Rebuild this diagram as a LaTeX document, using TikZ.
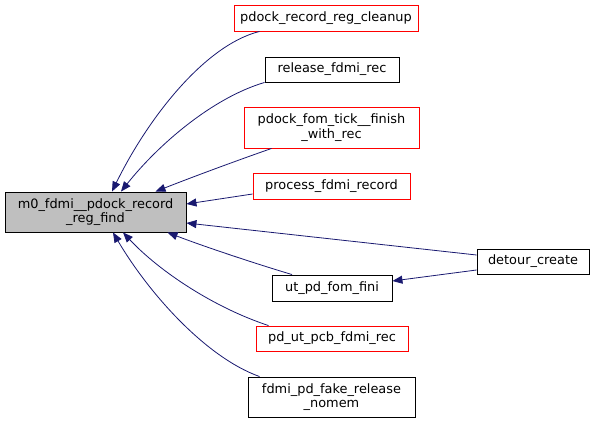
\documentclass[tikz,border=0pt]{standalone}
\usepackage{fontspec}
\setmainfont{DejaVu Sans}
\usetikzlibrary{arrows.meta,calc}
\definecolor{edgeblue}{HTML}{191970}
\definecolor{mainfill}{HTML}{BFBFBF}
\begin{document}
\begin{tikzpicture}[x=1pt,y=-1pt,
  box/.style={draw=black,rectangle,inner sep=0pt,align=center,font=\fontsize{12.9}{14.5}\selectfont,line width=0.9pt},
  redbox/.style={box,draw=red},
  edge/.style={draw=edgeblue,line width=0.8pt,-{Triangle[length=10pt,width=8pt]}}]
\useasboundingbox (0,0) rectangle (595,423);
\node[box,fill=mainfill,minimum width=181pt,minimum height=40pt] (main) at (95.5,212) {m0\_fdmi\_\_pdock\_record\\\_reg\_find};
\node[redbox,minimum width=184pt,minimum height=26pt] (cleanup) at (326,18) {pdock\_record\_reg\_cleanup};
\node[box,minimum width=134pt,minimum height=25pt] (release) at (332,69.5) {release\_fdmi\_rec};
\node[redbox,minimum width=175pt,minimum height=41pt] (tick) at (331.5,127.5) {pdock\_fom\_tick\_\_finish\\\_with\_rec};
\node[redbox,minimum width=157pt,minimum height=26pt] (process) at (331.5,186) {process\_fdmi\_record};
\node[box,minimum width=120pt,minimum height=26pt] (fini) at (332,288) {ut\_pd\_fom\_fini};
\node[redbox,minimum width=152pt,minimum height=25pt] (pcb) at (332,338.5) {pd\_ut\_pcb\_fdmi\_rec};
\node[box,minimum width=167pt,minimum height=40pt] (fake) at (331.5,397) {fdmi\_pd\_fake\_release\\\_nomem};
\node[box,minimum width=112pt,minimum height=25pt] (detour) at (533,261.5) {detour\_create};

\draw[edge] ([xshift=26pt]cleanup.south west) .. controls (205,45) and (148,118) .. ([xshift=16.5pt]main.north);
\draw[edge] (release.south west) .. controls (212,98) and (158,145) .. ([xshift=25.5pt]main.north);
\draw[edge] ([xshift=28pt]tick.south west) .. controls (230,163) and (190,178) .. ([xshift=60pt]main.north);
\draw[edge] ([yshift=-8pt]process.west) -- ([yshift=8pt]main.east);
\draw[edge] ([yshift=6.5pt]detour.west) -- ([yshift=-11pt]main.east);
\draw[edge] ([yshift=-8.5pt]detour.west) -- ([yshift=7pt]fini.east);
\draw[edge] ([xshift=-40pt]fini.north) .. controls (250,262) and (200,245) .. ([xshift=72pt]main.south);
\draw[edge] ([xshift=13pt]pcb.north west) .. controls (215,308) and (160,272) .. ([xshift=27.5pt]main.south);
\draw[edge] ([xshift=12pt]fake.north west) .. controls (205,357) and (148,292) .. ([xshift=17.5pt]main.south);
\end{tikzpicture}
\end{document}
